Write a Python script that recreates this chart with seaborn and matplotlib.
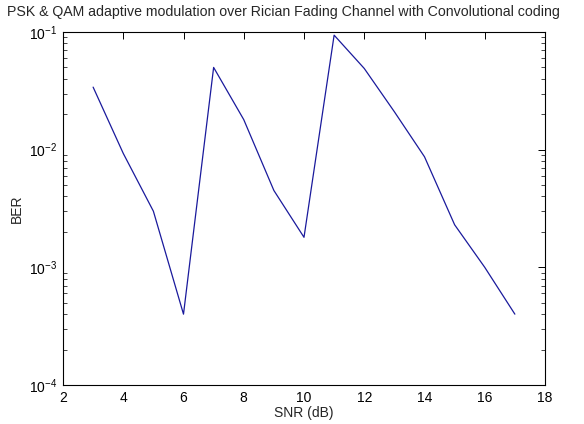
import matplotlib
matplotlib.use("Agg")
import matplotlib.pyplot as plt
import matplotlib.ticker as mticker
import numpy as np
import pandas as pd
import seaborn as sns

# SNR sweep and the measured bit error rate at each point
snr_db = [3, 4, 5, 6, 7, 8, 9, 10, 11, 12, 13, 14, 15, 16, 17]
ber = [0.034, 0.0093, 0.0030, 0.00040, 0.050, 0.018, 0.0045, 0.0018,
       0.094, 0.049, 0.021, 0.0087, 0.0023, 0.0010, 0.00040]

x_ticks = [2, 4, 6, 8, 10, 12, 14, 16, 18]
y_ticks = [1e-4, 1e-3, 1e-2, 1e-1]

title = "PSK & QAM adaptive modulation over Rician Fading Channel with Convolutional coding"

sns.set_style("white")
plt.rcParams["font.family"] = ["Liberation Sans", "DejaVu Sans"]
plt.rcParams["mathtext.fontset"] = "custom"
plt.rcParams["mathtext.rm"] = "Liberation Sans"
plt.rcParams["mathtext.it"] = "Liberation Sans"
plt.rcParams["mathtext.bf"] = "Liberation Sans"

df = pd.DataFrame({"SNR": snr_db, "BER": ber})

W, H = 584, 424
fig = plt.figure(figsize=(W / 100, H / 100), dpi=100)
ax = fig.add_axes([63 / W, 1 - 385 / H, (545 - 63) / W, (385 - 32) / H])

sns.lineplot(data=df, x="SNR", y="BER", ax=ax, color="#1a1a9c",
             linewidth=0.9, estimator=None, sort=False)

ax.set_yscale("log")
ax.set_xlim(2, 18)
ax.set_ylim(1e-4, 1e-1)
ax.set_xticks(x_ticks)
ax.set_xticklabels([str(t) for t in x_ticks])
ax.yaxis.set_major_locator(mticker.FixedLocator(y_ticks))
ax.yaxis.set_major_formatter(mticker.LogFormatterSciNotation())
ax.yaxis.set_minor_locator(mticker.LogLocator(base=10, subs=np.arange(2, 10)))
ax.yaxis.set_minor_formatter(mticker.NullFormatter())

for s in ax.spines.values():
    s.set_visible(True)
    s.set_color("black")
    s.set_linewidth(0.8)

ax.tick_params(axis="both", which="major", direction="in", length=5, width=0.7,
               top=True, right=True, labelsize=10, colors="black", pad=4)
ax.tick_params(axis="y", which="minor", direction="in", length=3, width=0.6,
               left=True, right=True)

ax.set_xlabel("SNR (dB)", fontsize=10, labelpad=1)
ax.set_ylabel("BER", fontsize=10, labelpad=4)

# Title sits just above the plot, starting near the left edge of the figure
fig.text(7 / W, 1 - 12 / H, title, fontsize=10.2, ha="left", va="center")

fig.savefig("out.png", dpi=100, facecolor="white")
